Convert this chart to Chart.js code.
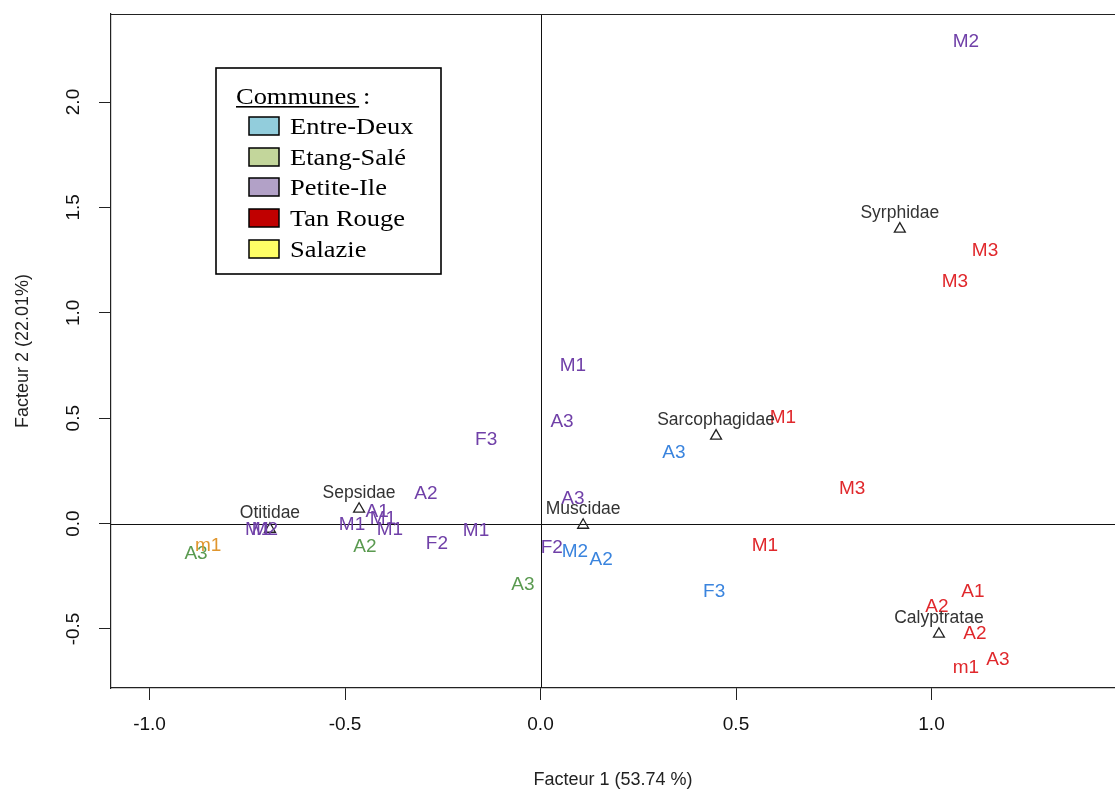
<!DOCTYPE html>
<html>
<head>
<meta charset="utf-8">
<script src="https://cdn.jsdelivr.net/npm/chart.js@4.4.1/dist/chart.umd.min.js"></script>
<style>
  html, body { margin: 0; padding: 0; background: #fff; }
  canvas { display: block; }
</style>
</head>
<body>
<canvas id="c" width="1115" height="793" style="width:1115px;height:793px"></canvas>
<script>
// Sample coordinates on factors 1 and 2, one group of arrays per commune
const entreDeuxLabels = ['A3', 'M2', 'A2', 'F3'];
const entreDeuxX = [0.341, 0.088, 0.155, 0.444];
const entreDeuxY = [0.344, -0.126, -0.164, -0.316];

const etangSaleLabels = ['A3', 'A2', 'A3'];
const etangSaleX = [-0.881, -0.449, -0.045];
const etangSaleY = [-0.135, -0.102, -0.282];

const petiteIleLabels = ['M2', 'M1', 'A3', 'F3', 'A2', 'A3', 'A1', 'M1', 'M1', 'M1', 'F2', 'M1', 'F2', 'M1', 'M2'];
const petiteIleX = [1.088, 0.083, 0.055, -0.139, -0.293, 0.083, -0.418, -0.482, -0.403, -0.385, -0.265, -0.165, 0.029, -0.722, -0.705];
const petiteIleY = [2.294, 0.757, 0.492, 0.406, 0.150, 0.127, 0.064, 0.003, 0.031, -0.021, -0.087, -0.026, -0.106, -0.021, -0.021];

const tanRougeLabels = ['M3', 'M3', 'M1', 'M3', 'M1', 'A1', 'A2', 'A2', 'A3', 'm1'];
const tanRougeX = [1.137, 1.060, 0.620, 0.797, 0.574, 1.106, 1.014, 1.111, 1.170, 1.088];
const tanRougeY = [1.303, 1.156, 0.510, 0.174, -0.097, -0.316, -0.387, -0.515, -0.638, -0.676];

const salazieLabels = ['m1'];
const salazieX = [-0.850];
const salazieY = [-0.097];

// Fly families projected on the same plane
const familyLabels = ['Syrphidae', 'Sarcophagidae', 'Muscidae', 'Calyptratae', 'Sepsidae', 'Otitidae'];
const familyX = [0.919, 0.449, 0.109, 1.019, -0.464, -0.692];
const familyY = [1.398, 0.416, -0.007, -0.524, 0.069, -0.026];

// Legend entries and axis ticks
const communeNames = ['Entre-Deux', 'Etang-Salé', 'Petite-Ile', 'Tan Rouge', 'Salazie'];
const communeSwatches = ['#92cddc', '#c3d69b', '#b2a1c7', '#c00000', '#ffff66'];
const communeTextColors = ['#3a84de', '#5a9a50', '#7040a8', '#e0282c', '#e0962e'];
const xTicks = [-1.0, -0.5, 0.0, 0.5, 1.0];
const yTicks = [-0.5, 0.0, 0.5, 1.0, 1.5, 2.0];

const toPoints = (xs, ys) => xs.map((x, i) => ({ x: x, y: ys[i] }));

const sampleGroups = [
  [entreDeuxLabels, entreDeuxX, entreDeuxY],
  [etangSaleLabels, etangSaleX, etangSaleY],
  [petiteIleLabels, petiteIleX, petiteIleY],
  [tanRougeLabels, tanRougeX, tanRougeY],
  [salazieLabels, salazieX, salazieY]
];

const datasets = sampleGroups.map((g, i) => ({
  label: communeNames[i],
  data: toPoints(g[1], g[2]),
  textLabels: g[0],
  textColor: communeTextColors[i],
  pointRadius: 0,
  pointHoverRadius: 0,
  showLine: false
}));

datasets.push({
  label: 'Familles',
  data: toPoints(familyX, familyY),
  textLabels: familyLabels,
  isFamily: true,
  pointStyle: 'triangle',
  pointRadius: 6.3,
  pointBorderColor: '#222',
  pointBackgroundColor: 'rgba(0,0,0,0)',
  pointBorderWidth: 1.3,
  showLine: false
});

const SANS = "'Liberation Sans', Arial, sans-serif";
const SERIF = "'Liberation Serif', 'Times New Roman', serif";

const planePlugin = {
  id: 'plane',
  beforeDatasetsDraw(chart) {
    const { ctx, chartArea: a, scales: { x, y } } = chart;
    ctx.save();
    ctx.strokeStyle = '#111';
    ctx.lineWidth = 1;
    // axes through the origin
    const x0 = Math.round(x.getPixelForValue(0)) + 0.5;
    const y0 = Math.round(y.getPixelForValue(0)) + 0.5;
    ctx.beginPath();
    ctx.moveTo(x0, a.top); ctx.lineTo(x0, a.bottom);
    ctx.moveTo(a.left, y0); ctx.lineTo(a.right, y0);
    ctx.stroke();
    // top edge of the frame
    ctx.strokeStyle = '#222';
    ctx.lineWidth = 1.2;
    ctx.beginPath();
    ctx.moveTo(a.left, a.top + 0.5); ctx.lineTo(a.right, a.top + 0.5);
    ctx.stroke();
    ctx.restore();
  },
  afterDatasetsDraw(chart) {
    const { ctx, scales: { y } } = chart;
    ctx.save();
    ctx.textAlign = 'center';
    ctx.textBaseline = 'middle';
    // sample labels first, family names on top
    chart.data.datasets.forEach((ds, di) => {
      const meta = chart.getDatasetMeta(di);
      meta.data.forEach((pt, i) => {
        if (ds.isFamily) {
          ctx.font = '17.5px ' + SANS;
          ctx.fillStyle = '#333';
          ctx.fillText(ds.textLabels[i], pt.x, pt.y - 16);
        } else {
          ctx.font = '19px ' + SANS;
          ctx.fillStyle = ds.textColor;
          ctx.fillText(ds.textLabels[i], pt.x, pt.y + 1.5);
        }
      });
    });

    // y tick labels, written along the axis
    ctx.font = '19px ' + SANS;
    ctx.fillStyle = '#111';
    y.ticks.forEach(t => {
      const py = y.getPixelForValue(t.value);
      ctx.save();
      ctx.translate(73, py);
      ctx.rotate(-Math.PI / 2);
      ctx.fillText(t.value.toFixed(1), 0, 1);
      ctx.restore();
    });

    // legend box
    const bx = 216, by = 68, bw = 225, bh = 206;
    ctx.fillStyle = '#fff';
    ctx.fillRect(bx, by, bw, bh);
    ctx.strokeStyle = '#000';
    ctx.lineWidth = 1.6;
    ctx.strokeRect(bx, by, bw, bh);

    const stretch = 1.15;
    ctx.textAlign = 'left';
    ctx.textBaseline = 'alphabetic';
    ctx.fillStyle = '#000';
    ctx.font = '23px ' + SERIF;
    ctx.save();
    ctx.translate(236, 104);
    ctx.scale(stretch, 1);
    ctx.fillText('Communes :', 0, 0);
    const uw = ctx.measureText('Communes ').width;
    ctx.restore();
    ctx.fillRect(236, 106, uw * stretch - 4, 1.6);

    const rowY = [126, 157, 187, 218, 249];
    communeNames.forEach((name, i) => {
      const cy = rowY[i];
      ctx.fillStyle = communeSwatches[i];
      ctx.fillRect(249, cy - 9, 30, 18);
      ctx.strokeStyle = '#000';
      ctx.lineWidth = 1.5;
      ctx.strokeRect(249, cy - 9, 30, 18);
      ctx.fillStyle = '#000';
      ctx.save();
      ctx.translate(290, cy + 7.5);
      ctx.scale(stretch, 1);
      ctx.fillText(name, 0, 0);
      ctx.restore();
    });
    ctx.restore();
  }
};

new Chart(document.getElementById('c'), {
  type: 'scatter',
  data: { datasets: datasets },
  options: {
    responsive: false,
    animation: false,
    devicePixelRatio: 1,
    layout: { autoPadding: false, padding: { top: 14, right: 0, left: 0, bottom: 0 } },
    plugins: { legend: { display: false }, tooltip: { enabled: false } },
    events: [],
    scales: {
      x: {
        type: 'linear',
        min: -1.0985,
        max: 1.4693,
        afterBuildTicks: s => { s.ticks = xTicks.map(v => ({ value: v })); },
        afterFit: s => { s.height = 105; s.paddingLeft = 0; s.paddingRight = 0; },
        ticks: {
          callback: v => v.toFixed(1),
          font: { family: SANS, size: 19 },
          color: '#111',
          padding: 13,
          maxRotation: 0,
          autoSkip: false
        },
        grid: { drawOnChartArea: false, drawTicks: true, tickLength: 12, color: '#222', lineWidth: 1 },
        border: { display: true, color: '#222', width: 1.2 },
        title: {
          display: true,
          text: 'Facteur 1 (53.74 %)',
          font: { family: SANS, size: 18 },
          color: '#222',
          padding: { top: 0, bottom: 2 }
        }
      },
      y: {
        type: 'linear',
        min: -0.7799,
        max: 2.4175,
        afterBuildTicks: s => { s.ticks = yTicks.map(v => ({ value: v })); },
        afterFit: s => { s.width = 111; s.paddingTop = 0; s.paddingBottom = 0; },
        ticks: { display: false },
        grid: { drawOnChartArea: false, drawTicks: true, tickLength: 12, color: '#222', lineWidth: 1 },
        border: { display: true, color: '#222', width: 1.2 },
        title: {
          display: true,
          text: 'Facteur 2 (22.01%)',
          font: { family: SANS, size: 18 },
          color: '#222',
          padding: { top: 12, bottom: 0 }
        }
      }
    }
  },
  plugins: [planePlugin]
});
</script>
</body>
</html>
